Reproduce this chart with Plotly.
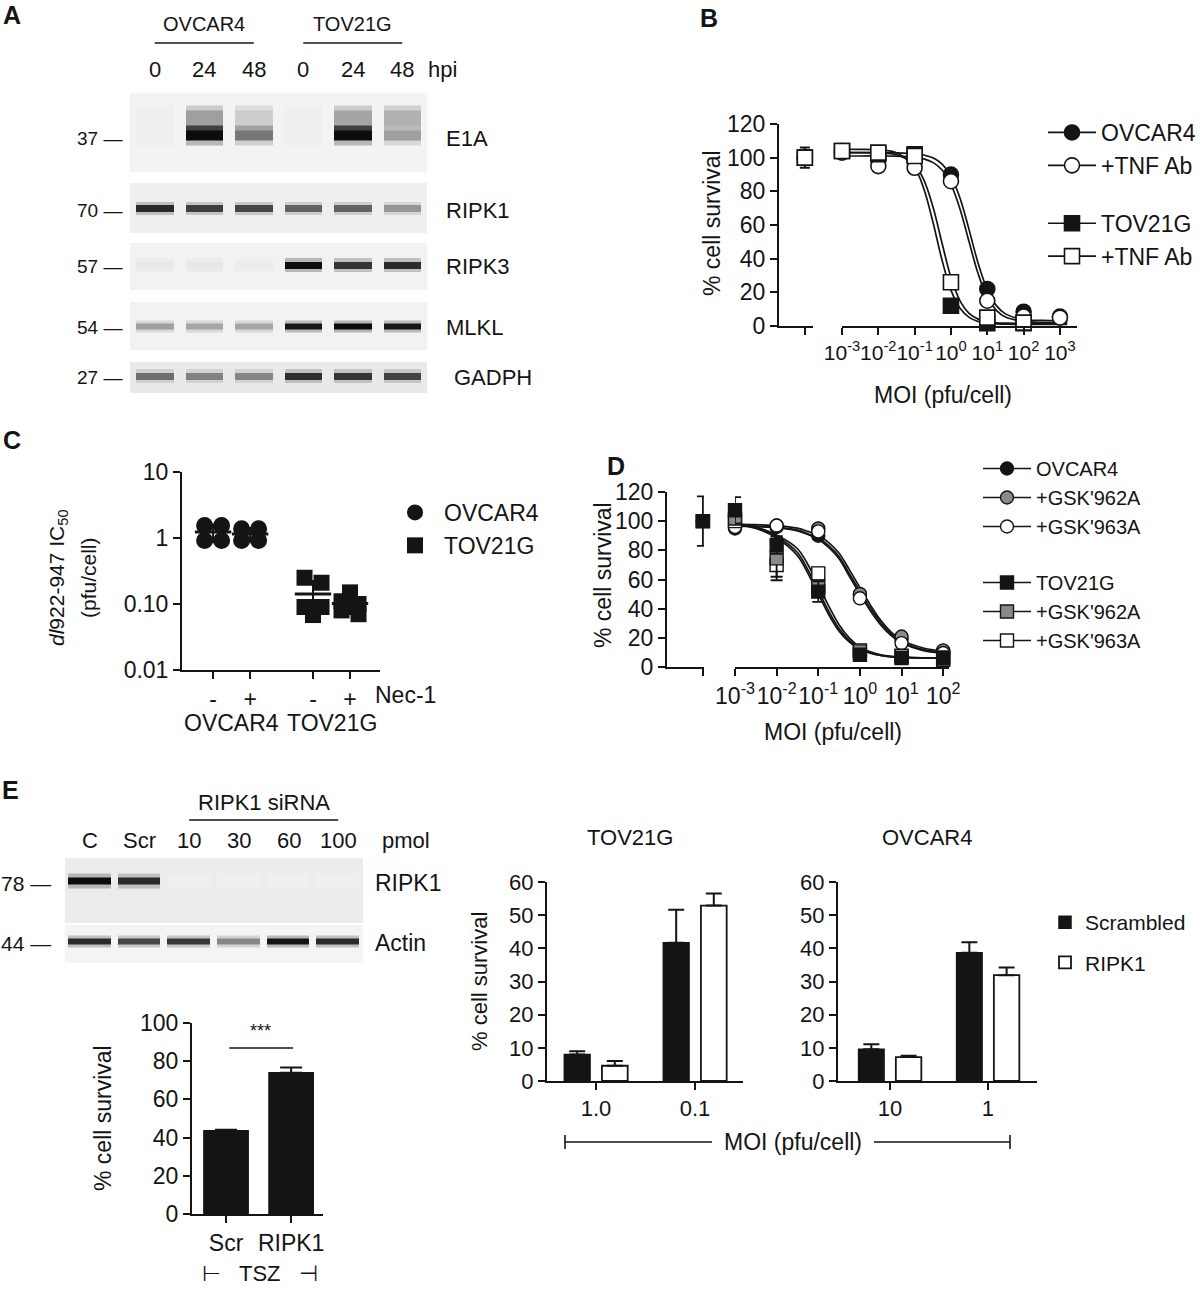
import numpy as np
import plotly.graph_objects as go

W, H = 1200, 1298
FONT = "Liberation Sans, Arial, Helvetica, sans-serif"
INK = "#141414"
GREY = "#8a8a8a"

# ======================= DATA =======================
# --- A: immunoblot band intensities (0 = absent, 1 = darkest) ---
a_cell_lines = ["OVCAR4", "TOV21G"]
a_hpi = ["0", "24", "48", "0", "24", "48"]
a_proteins = ["E1A", "RIPK1", "RIPK3", "MLKL", "GADPH"]
a_mw = ["37", "70", "57", "54", "27"]
a_e1a = [0.00, 1.00, 0.55, 0.00, 1.00, 0.42]
a_e1a_smear = [0.00, 0.42, 0.20, 0.00, 0.40, 0.36]
a_ripk1 = [0.86, 0.76, 0.72, 0.62, 0.62, 0.45]
a_ripk3 = [0.04, 0.05, 0.02, 1.00, 0.80, 0.85]
a_mlkl = [0.42, 0.40, 0.40, 0.95, 1.00, 0.95]
a_gadph = [0.58, 0.52, 0.50, 0.84, 0.80, 0.74]

# --- B: % cell survival vs MOI (+/- TNF antibody) ---
b_moi = [1e-3, 1e-2, 1e-1, 1, 10, 100, 1000]
b_moi_labels = ["10<sup>-3</sup>", "10<sup>-2</sup>", "10<sup>-1</sup>", "10<sup>0</sup>",
                "10<sup>1</sup>", "10<sup>2</sup>", "10<sup>3</sup>"]
b_names = ["OVCAR4", "+TNF Ab", "TOV21G", "+TNF Ab"]
b_ovcar4 = [104, 102, 99, 90, 22, 8.5, 5.6]
b_ovcar4_tnf = [103, 95, 94, 86, 15, 5.6, 5.0]
b_tov21g = [104, 102, 102, 12, 1.6, 1.6, None]
b_tov21g_tnf = [104, 103, 101, 26, 5.0, 2.0, None]
b_control = [100, 100, 100, 100]
b_control_err = [0, 0, 6, 0]
b_fit_logmoi = [-3, -2.5, -2, -1.5, -1, -0.75, -0.5, -0.25, 0, 0.25, 0.5, 0.75, 1, 1.25, 1.5, 2, 2.5, 3, 3.2]
b_fit_ovcar4 = [103, 103, 103, 102.9, 102.4, 101.6, 99.9, 96.3, 89.0, 75.9, 57.1, 37.1, 21.5, 12.1, 7.2, 3.8, 3.3, 3.1, 3.0]
b_fit_ovcar4_tnf = [101, 101, 101, 100.9, 100.2, 99.3, 97.2, 92.8, 84.1, 69.4, 49.9, 30.9, 17.1, 9.3, 5.3, 2.7, 2.1, 2.0, 2.0]
b_fit_tov21g = [105, 104.9, 104.6, 102.9, 93.9, 81.7, 62.1, 39.5, 21.3, 10.5, 5.1, 2.7, 1.7, 1.3, 1.1, 1.0, 1.0, 1.0, 1.0]
b_fit_tov21g_tnf = [103, 103, 102.8, 101.7, 95.7, 86.9, 71.1, 49.6, 28.9, 14.9, 7.5, 4.1, 2.6, 1.9, 1.7, 1.5, 1.5, 1.5, 1.5]

# --- C: dl922-947 IC50 (pfu/cell), +/- Nec-1 ---
c_groups = ["OVCAR4", "TOV21G"]
c_nec1 = ["-", "+"]
c_ovcar4_minus = [1.55, 1.55, 0.92, 0.92]
c_ovcar4_plus = [1.38, 1.38, 0.92, 0.92]
c_tov21g_minus = [0.25, 0.21, 0.09, 0.09, 0.068]
c_tov21g_plus = [0.15, 0.11, 0.10, 0.08, 0.07]

# --- D: % cell survival vs MOI (+/- GSK'962A / GSK'963A) ---
d_moi = [1e-3, 1e-2, 1e-1, 1, 10, 100]
d_moi_labels = ["10<sup>-3</sup>", "10<sup>-2</sup>", "10<sup>-1</sup>", "10<sup>0</sup>",
                "10<sup>1</sup>", "10<sup>2</sup>"]
d_names = ["OVCAR4", "+GSK'962A", "+GSK'963A", "TOV21G", "+GSK'962A", "+GSK'963A"]
d_ovcar4 = [95, 96, 90, 49.4, 18.7, 10.7]
d_ovcar4_962 = [97, 97, 95, 50.1, 20.9, 11.4]
d_ovcar4_963 = [96, 97, 93, 47.1, 16.4, 9.6]
d_tov21g = [107.5, 83.6, 51.7, 8.4, 6.1, 6.1]
d_tov21g_962 = [101.8, 74.5, 55.1, 10.7, 7.7, 5.0]
d_tov21g_963 = [100, 69.9, 64.2, 11.4, 7.3, 6.6]
d_ovcar4_sd = [2, 2, 2, 2, 2, 1]
d_ovcar4_962_sd = [2, 2, 2, 2, 2, 1]
d_ovcar4_963_sd = [2, 2, 2, 2, 2, 1]
d_tov21g_sd = [9, 6, 7, 1, 1, 1]
d_tov21g_962_sd = [4, 15, 4, 1, 1, 1]
d_tov21g_963_sd = [3, 8, 4, 1, 1, 1]
d_control = [100, 100, 100, 100, 100, 100]
d_control_err = [0, 0, 0, 17, 0, 0]
d_fit_logmoi = [-3, -2.5, -2, -1.5, -1.25, -1, -0.75, -0.5, -0.25, 0, 0.25, 0.5, 0.75, 1, 1.5, 2, 2.15]
d_fit_ovcar4 = [96.9, 96.6, 95.9, 93.9, 91.4, 88.5, 83.2, 75.6, 63.8, 52.0, 40.4, 30.4, 22.8, 17.5, 12.1, 10.1, 9.8]
d_fit_ovcar4_962 = [97.8, 97.6, 97.0, 95.2, 93.0, 90.3, 85.3, 78.0, 66.6, 54.5, 42.6, 32.0, 24.0, 18.6, 13.2, 11.0, 10.8]
d_fit_ovcar4_963 = [96.5, 96.2, 95.5, 93.3, 90.8, 87.6, 82.0, 74.2, 62.0, 50.0, 38.5, 28.8, 21.5, 16.6, 11.4, 9.5, 9.3]
d_fit_tov21g = [98.0, 95.5, 89.5, 78.5, 66.7, 52.5, 38.3, 26.4, 18.1, 12.8, 9.8, 8.0, 7.1, 6.6, 6.2, 6.05, 6.03]
d_fit_tov21g_962 = [97.8, 95.0, 88.5, 76.4, 64.2, 50.1, 36.0, 24.6, 17.0, 12.2, 9.5, 7.9, 7.0, 6.6, 6.2, 6.05, 6.03]
d_fit_tov21g_963 = [98.5, 96.0, 90.5, 81.1, 70.3, 56.1, 41.9, 29.0, 19.8, 13.7, 10.4, 8.4, 7.3, 6.8, 6.2, 6.05, 6.03]

# --- E: RIPK1 siRNA ---
e_lanes = ["C", "Scr", "10", "30", "60", "100"]
e_ripk1 = [1.00, 0.85, 0.00, 0.00, 0.00, 0.00]
e_actin = [0.85, 0.72, 0.78, 0.50, 0.95, 0.85]
e_tsz_groups = ["Scr", "RIPK1"]
e_tsz = [43.6, 73.9]
e_tsz_err = [0.5, 2.8]
e_tov_moi = ["1.0", "0.1"]
e_tov_scr = [8.0, 41.7]
e_tov_scr_err = [1.0, 9.9]
e_tov_ripk1 = [4.6, 52.9]
e_tov_ripk1_err = [1.4, 3.6]
e_ovc_moi = ["10", "1"]
e_ovc_scr = [9.6, 38.7]
e_ovc_scr_err = [1.5, 3.1]
e_ovc_ripk1 = [7.2, 31.9]
e_ovc_ripk1_err = [0.4, 2.3]


# ======================= HELPERS =======================
def px(x):
    return x / W


def py(y):
    return 1 - y / H


fig = go.Figure()
LAY = {}
shapes = []
anns = []
cnt = {"x": 0, "y": 0}


def _id(letter, n):
    return letter if n == 1 else f"{letter}{n}"


def _key(letter, n):
    return f"{letter}axis" if n == 1 else f"{letter}axis{n}"


def add_pair(xdom, ydom, xkw, ykw):
    cnt["x"] += 1
    cnt["y"] += 1
    xi, yi = cnt["x"], cnt["y"]
    LAY[_key("x", xi)] = dict(domain=[px(xdom[0]), px(xdom[1])], anchor=_id("y", yi), **xkw)
    LAY[_key("y", yi)] = dict(domain=[py(ydom[1]), py(ydom[0])], anchor=_id("x", xi), **ykw)
    return _id("x", xi), _id("y", yi)


def add_x(xdom, anchor, xkw):
    cnt["x"] += 1
    xi = cnt["x"]
    LAY[_key("x", xi)] = dict(domain=[px(xdom[0]), px(xdom[1])], anchor=anchor, **xkw)
    return _id("x", xi)


AX = dict(showline=True, linecolor=INK, linewidth=2, ticks="outside", ticklen=7, tickwidth=2,
          tickcolor=INK, showgrid=False, zeroline=False, fixedrange=True, tickangle=0,
          tickfont=dict(size=23, color=INK, family=FONT))
HIDDEN = dict(visible=False, fixedrange=True)


def text(x, y, s, size=22, xanchor="center", yanchor="middle", xref="paper", angle=0, bold=False):
    anns.append(dict(x=px(x) if xref == "paper" else x, y=py(y), xref=xref, yref="paper",
                     text=f"<b>{s}</b>" if bold else s, showarrow=False, textangle=angle,
                     font=dict(size=size, family=FONT, color=INK),
                     xanchor=xanchor, yanchor=yanchor))


def hline(x0, x1, y, xref="paper", width=1.6):
    shapes.append(dict(type="line", xref=xref, yref="paper",
                       x0=px(x0) if xref == "paper" else x0, x1=px(x1) if xref == "paper" else x1,
                       y0=py(y), y1=py(y), line=dict(color=INK, width=width)))


def vline(x, y0, y1, width=1.6):
    shapes.append(dict(type="line", xref="paper", yref="paper", x0=px(x), x1=px(x),
                       y0=py(y0), y1=py(y1), line=dict(color=INK, width=width)))


BLOT_SCALE = [[0.0, "#efefef"], [0.35, "#b4b4b4"], [0.7, "#4a4a4a"], [1.0, "#0c0c0c"]]


def blot(xdom, ydom, band_px, row_px, rows, center_row, gap, bg="#efefef"):
    n = len(rows[0])
    ylo = center_row - (ydom[1] - band_px) / row_px
    yhi = center_row + (band_px - ydom[0]) / row_px
    xid, yid = add_pair(xdom, ydom, dict(HIDDEN, range=[-0.5, n - 0.5]),
                        dict(HIDDEN, range=[ylo - 0.5, yhi - 0.5]))
    shapes.append(dict(type="rect", xref=f"{xid} domain", yref=f"{yid} domain", x0=0, x1=1,
                       y0=0, y1=1, fillcolor=bg, line=dict(width=0), layer="below"))
    fig.add_trace(go.Heatmap(z=rows, x=list(range(n)), y=list(range(len(rows))), xaxis=xid,
                             yaxis=yid, colorscale=BLOT_SCALE, zmin=0, zmax=1, showscale=False,
                             xgap=gap, hoverinfo="skip"))
    return xid, yid


def band_rows(vals, edge=0.33):
    e = [edge * v for v in vals]
    return [e, vals, vals, e]


# ======================= PANEL A =======================
text(12, 15, "A", size=25, bold=True)
A_X = (130, 427)
strips = [((93, 172), 138), ((183, 233), 210), ((243, 290), 267), ((302, 350), 328), ((362, 393), 378)]
e1a_rows = [[0.33 * v for v in a_e1a], a_e1a, a_e1a, [0.75 * v for v in a_e1a],
            a_e1a_smear, a_e1a_smear, a_e1a_smear, [0.5 * v for v in a_e1a_smear]]
ax_a0 = blot(A_X, strips[0][0], strips[0][1], 5.0, e1a_rows, 1.5, 12, bg="#f3f3f3")
blot(A_X, strips[1][0], strips[1][1], 3.2, band_rows(a_ripk1), 1.5, 12)
blot(A_X, strips[2][0], strips[2][1], 3.6, band_rows(a_ripk3), 1.5, 12, bg="#f2f2f2")
blot(A_X, strips[3][0], strips[3][1], 3.0, band_rows(a_mlkl), 1.5, 12, bg="#f2f2f2")
blot(A_X, strips[4][0], strips[4][1], 3.6, band_rows(a_gadph), 1.5, 12, bg="#e9e9e9")

ax_a = ax_a0[0]
for i, lab in enumerate(a_hpi):
    text(i, 69, lab, size=22, xref=ax_a)
text(426, 69, "hpi", size=22, xanchor="left")
for g, name in enumerate(a_cell_lines):
    text(3 * g + 1, 24, name, size=20, xref=ax_a)
    hline(3 * g, 3 * g + 2, 43, xref=ax_a)
for (yd, bc), mw, prot in zip(strips, a_mw, a_proteins):
    text(124, bc, f"{mw} \u2014", size=19, xanchor="right")
    text(452 if prot == "GADPH" else 444, bc, prot, size=22, xanchor="left")

# ======================= PANEL B =======================
text(709, 18, "B", size=25, bold=True)
bx_c, by = add_pair((779, 813), (124, 326),
                    dict(AX, type="category", range=[-0.76, 0.24], showticklabels=False),
                    dict(AX, range=[0, 120], tickvals=[0, 20, 40, 60, 80, 100, 120]))
bx_l = add_x((842, 1077), by, dict(AX, type="log", range=[-3, 3.47], tickvals=b_moi,
                                    ticktext=b_moi_labels,
                                    tickfont=dict(size=21, color=INK, family=FONT)))
b_vals = [b_ovcar4, b_ovcar4_tnf, b_tov21g, b_tov21g_tnf]
b_fits = [b_fit_ovcar4, b_fit_ovcar4_tnf, b_fit_tov21g, b_fit_tov21g_tnf]
b_sym = ["circle", "circle", "square", "square"]
b_fill = [INK, "white", INK, "white"]
b_grp = ["b1", "b1", "b2", "b2"]
b_fit_x = [10 ** v for v in b_fit_logmoi]
for fit in b_fits:
    fig.add_trace(go.Scatter(x=b_fit_x, y=fit, mode="lines", xaxis=bx_l, yaxis=by,
                             line=dict(color=INK, width=1.7, shape="spline"),
                             showlegend=False, hoverinfo="skip", cliponaxis=False))
for k in range(4):
    mk = dict(symbol=b_sym[k], size=15, color=b_fill[k], line=dict(color=INK, width=1.6))
    fig.add_trace(go.Scatter(x=b_moi, y=b_vals[k], mode="markers", xaxis=bx_l, yaxis=by,
                             marker=mk, showlegend=False, cliponaxis=False))
    fig.add_trace(go.Scatter(x=["ctrl"], y=[b_control[k]], mode="markers", xaxis=bx_c, yaxis=by,
                             marker=mk, showlegend=False, cliponaxis=False,
                             error_y=dict(type="data", array=[b_control_err[k]], color=INK,
                                          thickness=2, width=5, visible=b_control_err[k] > 0)))
    fig.add_trace(go.Scatter(x=[None], y=[None], mode="lines+markers", name=b_names[k],
                             legend="legend", legendgroup=b_grp[k], xaxis=bx_l, yaxis=by,
                             marker=mk, line=dict(color=INK, width=1.7)))
text(712, 223, "% cell survival", size=23, angle=-90)
text(943, 395, "MOI (pfu/cell)", size=23)

# ======================= PANEL C =======================
text(12, 440, "C", size=25, bold=True)
c_pos = [g * 2.7 + t for g in range(len(c_groups)) for t in range(len(c_nec1))]
cx, cy = add_pair((182, 380), (472, 670),
                  dict(AX, range=[-0.84, 4.51], tickvals=c_pos,
                       ticktext=[s for _ in c_groups for s in c_nec1]),
                  dict(AX, type="log", range=[-2, 1], tickvals=[0.01, 0.1, 1, 10],
                       ticktext=["0.01", "0.10", "1", "10"]))


def swarm(vals, center, ppd=66.0, unit_px=37.0, step_px=17.0, tol_px=6.0):
    order = sorted(range(len(vals)), key=lambda i: -vals[i])
    ypx = {i: -np.log10(vals[i]) * ppd for i in order}
    rows = []
    for i in order:
        if rows and abs(ypx[i] - ypx[rows[-1][0]]) < tol_px:
            rows[-1].append(i)
        else:
            rows.append([i])
    xs = [0.0] * len(vals)
    for r in rows:
        k = len(r)
        for j, i in enumerate(r):
            xs[i] = center + (j - (k - 1) / 2) * step_px / unit_px
    return xs


c_sets = [[c_ovcar4_minus, c_ovcar4_plus], [c_tov21g_minus, c_tov21g_plus]]
c_sym = ["circle", "square"]
for g, name in enumerate(c_groups):
    xs, ys = [], []
    for t in range(2):
        vals = c_sets[g][t]
        xs += swarm(vals, c_pos[2 * g + t])
        ys += vals
    fig.add_trace(go.Scatter(x=xs, y=ys, mode="markers", name=name, legend="legend2",
                             xaxis=cx, yaxis=cy, cliponaxis=False,
                             marker=dict(symbol=c_sym[g], size=17 if g == 0 else 16, color=INK)))
    means = [float(np.mean(v)) for v in c_sets[g]]
    sds = [float(np.std(v, ddof=1)) for v in c_sets[g]]
    fig.add_trace(go.Scatter(x=c_pos[2 * g:2 * g + 2], y=means, mode="markers", xaxis=cx, yaxis=cy,
                             showlegend=False, cliponaxis=False,
                             marker=dict(symbol="line-ew", size=26, line=dict(color=INK, width=3)),
                             error_y=dict(type="data", array=sds, color=INK, thickness=2, width=6)))
text(58, 578, "<i>dl</i>922-947 IC<sub>50</sub>", size=21, angle=-90)
text(88, 578, "(pfu/cell)", size=21, angle=-90)
text(373, 695, "Nec-1", size=23, xanchor="left")
for g, name in enumerate(c_groups):
    text((c_pos[2 * g] + c_pos[2 * g + 1]) / 2, 723, name, size=23, xref=cx)

# ======================= PANEL D =======================
text(616, 466, "D", size=25, bold=True)
dx_c, dy = add_pair((667, 704), (492, 667),
                    dict(AX, type="category", range=[-0.97, 0.03], showticklabels=False),
                    dict(AX, range=[0, 120], tickvals=[0, 20, 40, 60, 80, 100, 120]))
dx_l = add_x((735, 949), dy, dict(AX, type="log", range=[-3, 2.14], tickvals=d_moi,
                                   ticktext=d_moi_labels))
d_vals = [d_ovcar4, d_ovcar4_962, d_ovcar4_963, d_tov21g, d_tov21g_962, d_tov21g_963]
d_sds = [d_ovcar4_sd, d_ovcar4_962_sd, d_ovcar4_963_sd, d_tov21g_sd, d_tov21g_962_sd, d_tov21g_963_sd]
d_fits = [d_fit_ovcar4, d_fit_ovcar4_962, d_fit_ovcar4_963, d_fit_tov21g, d_fit_tov21g_962, d_fit_tov21g_963]
d_sym = ["circle"] * 3 + ["square"] * 3
d_fill = [INK, GREY, "white", INK, GREY, "white"]
d_grp = ["d1"] * 3 + ["d2"] * 3
d_fit_x = [10 ** v for v in d_fit_logmoi]
for fit in d_fits:
    fig.add_trace(go.Scatter(x=d_fit_x, y=fit, mode="lines", xaxis=dx_l, yaxis=dy,
                             line=dict(color=INK, width=1.7, shape="spline"),
                             showlegend=False, hoverinfo="skip", cliponaxis=False))
for k in [0, 1, 2, 5, 4, 3]:
    mk = dict(symbol=d_sym[k], size=13, color=d_fill[k], line=dict(color=INK, width=1.4))
    fig.add_trace(go.Scatter(x=d_moi, y=d_vals[k], mode="markers", xaxis=dx_l, yaxis=dy,
                             marker=mk, showlegend=False, cliponaxis=False,
                             error_y=dict(type="data", array=d_sds[k], color=INK, thickness=1.8, width=6)))
for k in [0, 1, 2, 4, 5, 3]:
    mk = dict(symbol=d_sym[k], size=13, color=d_fill[k], line=dict(color=INK, width=1.4))
    fig.add_trace(go.Scatter(x=["ctrl"], y=[d_control[k]], mode="markers", xaxis=dx_c, yaxis=dy,
                             marker=mk, showlegend=False, cliponaxis=False,
                             error_y=dict(type="data", array=[d_control_err[k]], color=INK,
                                          thickness=1.8, width=6, visible=d_control_err[k] > 0)))
for k in range(6):
    mk = dict(symbol=d_sym[k], size=13, color=d_fill[k], line=dict(color=INK, width=1.4))
    fig.add_trace(go.Scatter(x=[None], y=[None], mode="lines+markers", name=d_names[k],
                             legend="legend3", legendgroup=d_grp[k], xaxis=dx_l, yaxis=dy,
                             marker=mk, line=dict(color=INK, width=1.7)))
text(603, 575, "% cell survival", size=23, angle=-90)
text(833, 732, "MOI (pfu/cell)", size=23)

# ======================= PANEL E =======================
text(10, 790, "E", size=25, bold=True)
E_X = (65, 363)
ex, _ = blot(E_X, (858, 923), 883, 3.8, band_rows(e_ripk1), 1.5, 7, bg="#ececec")
blot(E_X, (925, 963), 943, 3.0, band_rows(e_actin), 1.5, 7, bg="#f4f4f4")
for i, lab in enumerate(e_lanes):
    text(i, 840, lab, size=22, xref=ex)
text(380, 840, "pmol", size=22, xanchor="left")
text(3.5, 802, "RIPK1 siRNA", size=22, xref=ex)
hline(2, 5, 820, xref=ex)
text(53, 883, "78 \u2014", size=21, xanchor="right")
text(53, 943, "44 \u2014", size=21, xanchor="right")
text(373, 883, "RIPK1", size=23, xanchor="left")
text(373, 943, "Actin", size=23, xanchor="left")

# TSZ bar chart
tx, ty = add_pair((192, 323), (1023, 1214),
                  dict(AX, type="category", range=[-0.523, 1.49]),
                  dict(AX, range=[0, 100], tickvals=[0, 20, 40, 60, 80, 100]))
fig.add_trace(go.Bar(x=e_tsz_groups, y=e_tsz, width=0.68, offset=-0.34, xaxis=tx, yaxis=ty,
                     marker=dict(color=INK, line=dict(color=INK, width=1.5)), showlegend=False,
                     error_y=dict(type="data", array=e_tsz_err, arrayminus=[0, 0], symmetric=False,
                                  color=INK, thickness=2, width=11)))
shapes.append(dict(type="line", xref=tx, yref="paper", x0=0.05, x1=1.03, y0=py(1048), y1=py(1048),
                   line=dict(color=INK, width=1.6)))
text(260, 1031, "***", size=18)
text(103, 1118, "% cell survival", size=23, angle=-90)
text(260, 1273, "\u22a2   TSZ   \u22a3", size=22)

# MOI bar charts
bar_sets = [
    ((547, 743), e_tov_moi, e_tov_scr, e_tov_scr_err, e_tov_ripk1, e_tov_ripk1_err, "TOV21G", 630, [-0.495, 1.485]),
    ((838, 1037), e_ovc_moi, e_ovc_scr, e_ovc_scr_err, e_ovc_ripk1, e_ovc_ripk1_err, "OVCAR4", 927, [-0.53, 1.5]),
]
for j, (xd, cats, scr, scr_e, rip, rip_e, title, tx_c, rng) in enumerate(bar_sets):
    xa, ya = add_pair(xd, (882, 1081),
                      dict(AX, type="category", range=rng, tickfont=dict(size=22, color=INK, family=FONT)),
                      dict(AX, range=[0, 60], tickvals=[0, 10, 20, 30, 40, 50, 60],
                           tickfont=dict(size=22, color=INK, family=FONT)))
    fig.add_trace(go.Bar(x=cats, y=scr, width=0.26, offset=-0.32, xaxis=xa, yaxis=ya, name="Scrambled",
                         legend="legend4", legendgroup="e1", showlegend=(j == 0),
                         marker=dict(color=INK, line=dict(color=INK, width=1.5)),
                         error_y=dict(type="data", array=scr_e, arrayminus=[0, 0], symmetric=False,
                                      color=INK, thickness=2, width=8)))
    fig.add_trace(go.Bar(x=cats, y=rip, width=0.26, offset=0.06, xaxis=xa, yaxis=ya, name="RIPK1",
                         legend="legend4", legendgroup="e2", showlegend=(j == 0),
                         marker=dict(color="white", line=dict(color=INK, width=1.8)),
                         error_y=dict(type="data", array=rip_e, arrayminus=[0, 0], symmetric=False,
                                      color=INK, thickness=2, width=8)))
    text(tx_c, 837, title, size=22)
text(479, 982, "% cell survival", size=22, angle=-90)
text(793, 1142, "MOI (pfu/cell)", size=23)
hline(565, 712, 1142)
hline(874, 1010, 1142)
vline(565, 1135, 1149)
vline(1010, 1135, 1149)

# ======================= LAYOUT =======================
LEG = dict(bgcolor="rgba(0,0,0,0)", borderwidth=0, xanchor="left", yanchor="top",
           traceorder="grouped", itemclick=False, itemdoubleclick=False)
fig.update_layout(
    width=W, height=H, margin=dict(l=0, r=0, t=0, b=0, autoexpand=False),
    paper_bgcolor="white", plot_bgcolor="white",
    font=dict(family=FONT, color=INK), barmode="overlay", showlegend=True,
    legend=dict(LEG, x=px(1043), y=py(111), font=dict(size=23, family=FONT, color=INK),
                tracegroupgap=25, itemwidth=48),
    legend2=dict(LEG, x=px(386), y=py(491), font=dict(size=23, family=FONT, color=INK), itemwidth=48),
    legend3=dict(LEG, x=px(978), y=py(449), font=dict(size=20, family=FONT, color=INK),
                 tracegroupgap=27, itemwidth=48),
    legend4=dict(LEG, x=px(1045), y=py(902), font=dict(size=21, family=FONT, color=INK), tracegroupgap=10),
    shapes=shapes, annotations=anns, **LAY,
)
fig.write_html("out.html", config={"displayModeBar": False},
               post_script="document.body.style.margin='0px';")
